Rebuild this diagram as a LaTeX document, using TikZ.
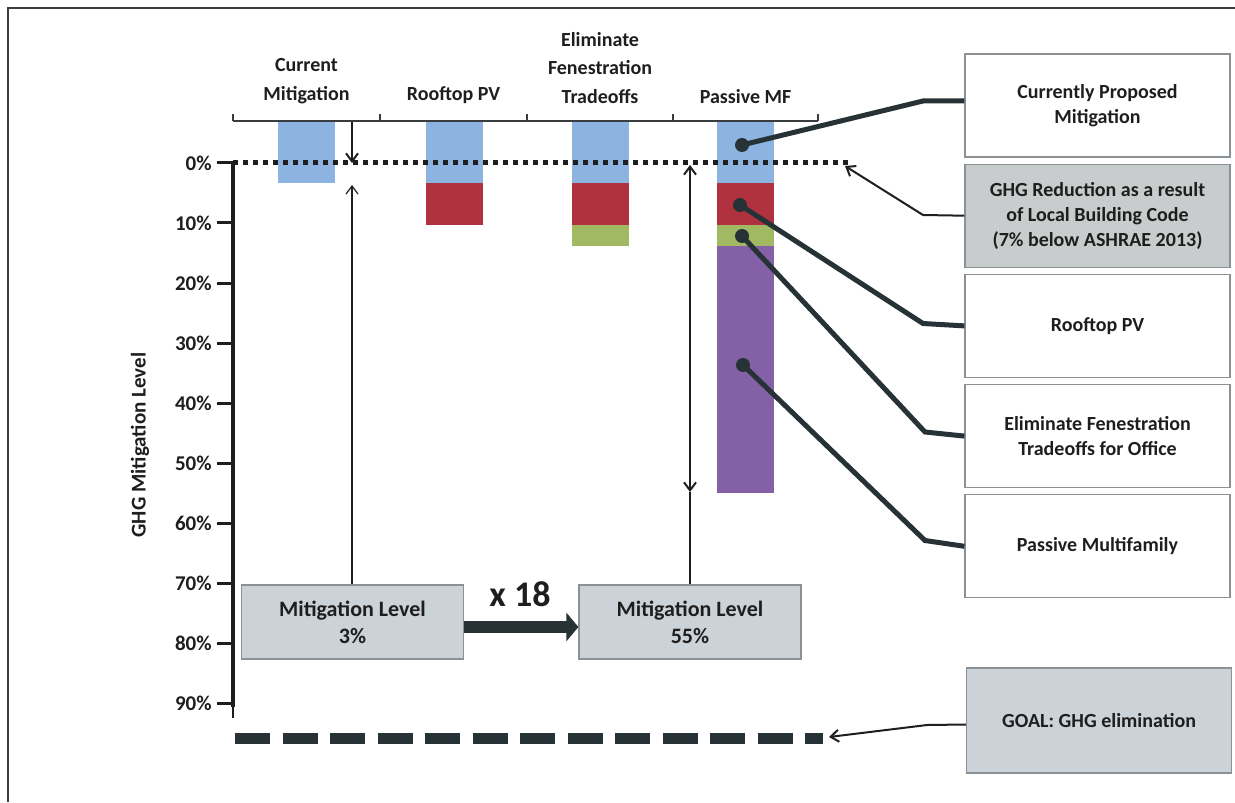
\documentclass[tikz,border=0pt]{standalone}
\usepackage{fontspec}
\setmainfont{Carlito}
\usetikzlibrary{arrows.meta,positioning}
\definecolor{ink}{HTML}{1E1E1E}
\definecolor{wirecol}{HTML}{263236}
\definecolor{framecol}{HTML}{3A3D40}
\definecolor{boxline}{HTML}{8C9195}
\definecolor{boxgray}{HTML}{C9CCCD}
\definecolor{boxblue}{HTML}{CBD2D8}
\definecolor{barblue}{HTML}{8DB3E0}
\definecolor{barred}{HTML}{B0323E}
\definecolor{bargreen}{HTML}{A2B964}
\definecolor{barpurple}{HTML}{8460A6}
\begin{document}
\begin{tikzpicture}[x=0.5pt,y=-0.5pt,
	lbl/.style={font=\bfseries\fontsize{10}{14.25}\selectfont,text=ink,align=center,inner sep=0pt},
	ticklbl/.style={font=\bfseries\fontsize{10.5}{12}\selectfont,text=ink,inner sep=0pt,anchor=east},
	infobox/.style={draw=boxline,line width=0.6pt,minimum width=132.5pt,minimum height=51.5pt,
		align=center,font=\bfseries\fontsize{10}{12.5}\selectfont,text=ink},
	levelbox/.style={draw=boxline,fill=boxblue,line width=0.6pt,minimum width=111pt,minimum height=37pt,
		align=center,font=\bfseries\fontsize{11}{13.5}\selectfont,text=ink},
	wire/.style={draw=wirecol,line width=2.5pt},
	dot/.style={circle,fill=wirecol,inner sep=0pt,minimum size=7pt},
	barb/.style={-{Straight Barb[length=4pt,width=6pt]}},
	node distance=3pt]
\useasboundingbox (0,0) rectangle (1235,802);
\draw[framecol,line width=1pt] (8,802) -- (8,8) -- (1235,8);

\foreach \xa in {278,426,572,717} \fill[barblue] (\xa,121) rectangle ++(57,62);
\foreach \xa in {426,572,717} \fill[barred] (\xa,183) rectangle ++(57,42);
\foreach \xa in {572,717} \fill[bargreen] (\xa,225) rectangle ++(57,21);
\fill[barpurple] (717,246) rectangle ++(57,247);

\draw[framecol,line width=0.8pt] (233,121) -- (818,121);
\foreach \x in {233,380,527,673,818} \draw[framecol,line width=0.8pt] (\x,114) -- (\x,121);

\node[lbl,anchor=south] (c1) at (306.5,104) {Current\\Mitigation};
\node[lbl,anchor=south] (c2) at (453.5,104) {Rooftop PV};
\node[lbl,anchor=south] (c3) at (600,104) {Eliminate\\Fenestration\\Tradeoffs};
\node[lbl,anchor=south] (c4) at (745.5,104) {Passive MF};

\draw[ink,line width=2pt] (233,163) -- (233,707);
\draw[ink,line width=0.6pt] (233,707) -- (233,718);
\foreach \p in {0,10,...,90} {
	\draw[ink,line width=1.5pt] (217,163+6*\p) -- (233,163+6*\p);
	\node[ticklbl] at (212,163+6*\p) {\p\%};
}
\node[lbl,font=\bfseries\fontsize{10.5}{12}\selectfont,rotate=90] (ylab) at (140,445) {GHG Mitigation Level};

\draw[ink,line width=2.5pt,dash pattern=on 2.5pt off 2.5pt] (233,163) -- (848,163);

\node[infobox] (b1) at (1097.5,105.5) {Currently Proposed\\Mitigation};
\node[infobox,fill=boxgray,below=of b1] (b2) {GHG Reduction as a result\\of Local Building Code\\(7\% below ASHRAE 2013)};
\node[infobox,below=of b2] (b3) {Rooftop PV};
\node[infobox,below=of b3] (b4) {Eliminate Fenestration\\Tradeoffs for Office};
\node[infobox,below=of b4] (b5) {Passive Multifamily};
\node[infobox,fill=boxblue,minimum height=52.5pt] (goal) at (1099,720.5) {GOAL: GHG elimination};

\node[dot] (d1) at (742,145) {};
\node[dot] (d2) at (740,205) {};
\node[dot] (d3) at (742,236) {};
\node[dot] (d4) at (743,365) {};
\draw[wire] (d1.center) -- (923,101) -- (b1.west |- 0,101);
\draw[wire] (d2.center) -- (923,323.5) -- (b3.west);
\draw[wire] (d3.center) -- (925,432) -- (b4.west);
\draw[wire] (d4.center) -- (925,540.5) -- (b5.west);
\draw[ink,line width=1pt,barb] (b2.west) -- (923,215) -- (845,166);

\node[levelbox] (m3) at (352.5,622) {Mitigation Level\\3\%};
\node[levelbox] (m55) at (690,622) {Mitigation Level\\55\%};
\node[font=\bfseries\fontsize{18}{20}\selectfont,text=ink,inner sep=0pt] (times) at (520,594) {x 18};
\draw[wirecol,line width=6pt,-{Triangle[length=6pt,width=14pt]}] (m3.east |- 0,627) -- (m55.west |- 0,627);

\draw[ink,line width=1pt,barb] (352,122) -- (352,163);
\draw[ink,line width=0.6pt,barb] (m3.north -| 352,0) -- (352,185);
\draw[ink,line width=0.6pt] (m55.north) -- (690,492);
\draw[ink,line width=1pt,barb] (690,330) -- (690,165);
\draw[ink,line width=1pt,barb] (690,330) -- (690,492);

\draw[wirecol,line width=5.5pt,dash pattern=on 17.5pt off 6.25pt] (235,738.5) -- (823,738.5);
\draw[ink,line width=1pt,barb] ([yshift=-2pt]goal.west) -- (927,725) -- (829,737);
\end{tikzpicture}
\end{document}
